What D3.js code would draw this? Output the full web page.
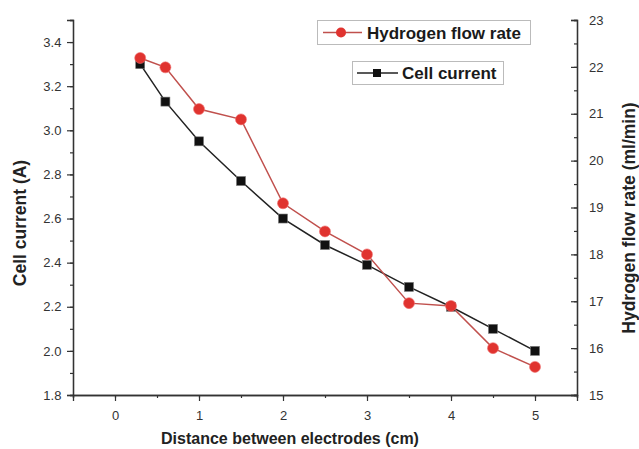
<!DOCTYPE html>
<html><head><meta charset="utf-8">
<script src="https://cdn.jsdelivr.net/npm/d3@7"></script>
<style>body{margin:0;background:#fff}text{font-family:Arial,"Liberation Sans",sans-serif}</style>
</head><body><svg id="c" width="639" height="449"></svg>
<script>
const distance = [0.3, 0.6, 1, 1.5, 2, 2.5, 3, 3.5, 4, 4.5, 5];
const cellCurrent = [3.30, 3.13, 2.95, 2.77, 2.60, 2.48, 2.39, 2.29, 2.20, 2.10, 2.00];
const hydrogenFlow = [22.19, 21.99, 21.10, 20.88, 19.09, 18.49, 18.00, 16.96, 16.90, 16.00, 15.60];
const xTicks = [0, 1, 2, 3, 4, 5];
const leftTicks = [1.8, 2.0, 2.2, 2.4, 2.6, 2.8, 3.0, 3.2, 3.4];
const rightTicks = [15, 16, 17, 18, 19, 20, 21, 22, 23];

const svg = d3.select("#c");
const L = 73, R = 577, T = 20, B = 395;
const x = d3.scaleLinear().domain([-0.5, 5.5]).range([L, R]);
const yL = d3.scaleLinear().domain([1.8, 3.5]).range([B, T]);
const yR = d3.scaleLinear().domain([15, 23]).range([B, T]);
const axisCol = "#333", labCol = "#333";

// bottom axis
const gx = svg.append("g").attr("transform", `translate(0,${B})`);
gx.call(d3.axisBottom(x).tickValues(d3.range(-0.5, 5.51, 0.5)).tickSize(3).tickFormat(""));
gx.call(g => g.append("g").call(d3.axisBottom(x).tickValues(xTicks).tickSize(6).tickFormat(d3.format("d"))));
gx.selectAll(".domain").attr("stroke", axisCol).attr("stroke-width", 1.3);
gx.selectAll("line").attr("stroke", axisCol).attr("stroke-width", 1.2);
gx.selectAll("text").attr("font-size", 13).attr("fill", labCol).attr("dy", "1.25em");

// left axis
const gl = svg.append("g").attr("transform", `translate(${L},0)`);
gl.call(d3.axisLeft(yL).tickValues(d3.range(18, 35.1, 1).map(v => v / 10)).tickSize(3).tickFormat(""));
gl.call(g => g.append("g").call(d3.axisLeft(yL).tickValues(leftTicks).tickSize(6).tickFormat(d3.format(".1f"))));
gl.selectAll(".domain").attr("stroke", axisCol).attr("stroke-width", 1.3);
gl.selectAll("line").attr("stroke", axisCol).attr("stroke-width", 1.2);
gl.selectAll("text").attr("font-size", 13).attr("fill", labCol).attr("dx", "-0.2em");

// right axis (ticks inward)
const gr = svg.append("g").attr("transform", `translate(${R},0)`);
gr.call(d3.axisRight(yR).tickValues(d3.range(15, 23.01, 0.5)).tickSize(-3).tickFormat(""));
gr.call(g => g.append("g").call(d3.axisRight(yR).tickValues(rightTicks).tickSize(-6).tickPadding(12).tickFormat(d3.format("d"))));
gr.selectAll(".domain").attr("stroke", axisCol).attr("stroke-width", 1.3);
gr.selectAll("line").attr("stroke", axisCol).attr("stroke-width", 1.2);
gr.selectAll("text").attr("font-size", 13).attr("fill", labCol).attr("x", 12);

// axis titles
svg.append("text").attr("x", 290).attr("y", 444).attr("text-anchor", "middle")
  .attr("font-size", 16).attr("font-weight", "bold").attr("fill", "#222").text("Distance between electrodes (cm)");
svg.append("text").attr("transform", `translate(26,223) rotate(-90)`).attr("text-anchor", "middle")
  .attr("font-size", 17.5).attr("font-weight", "bold").attr("fill", "#222").text("Cell current (A)");
svg.append("text").attr("transform", `translate(635,218) rotate(-90)`).attr("text-anchor", "middle")
  .attr("font-size", 17.5).attr("font-weight", "bold").attr("fill", "#222").text("Hydrogen flow rate (ml/min)");

// series
const redLine = "#c0504d", redFill = "#e0332f";
svg.append("path").datum(distance.map((d, i) => [d, cellCurrent[i]]))
  .attr("d", d3.line().x(d => x(d[0])).y(d => yL(d[1])))
  .attr("fill", "none").attr("stroke", "#222").attr("stroke-width", 1.5);
svg.append("path").datum(distance.map((d, i) => [d, hydrogenFlow[i]]))
  .attr("d", d3.line().x(d => x(d[0])).y(d => yR(d[1])))
  .attr("fill", "none").attr("stroke", redLine).attr("stroke-width", 1.5);
svg.selectAll("rect.sq").data(distance.map((d, i) => [d, cellCurrent[i]])).join("rect")
  .attr("class", "sq").attr("x", d => x(d[0]) - 4.5).attr("y", d => yL(d[1]) - 4.5)
  .attr("width", 9).attr("height", 9).attr("fill", "#111").attr("stroke", "#777").attr("stroke-width", 0.6);
svg.selectAll("circle.ci").data(distance.map((d, i) => [d, hydrogenFlow[i]])).join("circle")
  .attr("class", "ci").attr("cx", d => x(d[0])).attr("cy", d => yR(d[1])).attr("r", 5.5)
  .attr("fill", redFill).attr("stroke", "#f07070").attr("stroke-width", 0.6);

// legends
const lg1 = svg.append("g");
lg1.append("rect").attr("x", 317.5).attr("y", 20.5).attr("width", 213).attr("height", 24)
  .attr("fill", "#fff").attr("stroke", "#bbb").attr("stroke-width", 1);
lg1.append("line").attr("x1", 323).attr("x2", 362).attr("y1", 32.5).attr("y2", 32.5).attr("stroke", redLine).attr("stroke-width", 1.5);
lg1.append("circle").attr("cx", 341).attr("cy", 32.5).attr("r", 5).attr("fill", redFill);
lg1.append("text").attr("x", 367).attr("y", 38.5).attr("font-size", 17).attr("font-weight", "bold").attr("fill", "#1a1a1a").text("Hydrogen flow rate");

const lg2 = svg.append("g");
lg2.append("rect").attr("x", 352.5).attr("y", 61.5).attr("width", 151).attr("height", 23)
  .attr("fill", "#fff").attr("stroke", "#bbb").attr("stroke-width", 1);
lg2.append("line").attr("x1", 357).attr("x2", 398).attr("y1", 73).attr("y2", 73).attr("stroke", "#222").attr("stroke-width", 1.5);
lg2.append("rect").attr("x", 373).attr("y", 69).attr("width", 8).attr("height", 8).attr("fill", "#111");
lg2.append("text").attr("x", 402).attr("y", 79).attr("font-size", 17).attr("font-weight", "bold").attr("fill", "#1a1a1a").text("Cell current");
</script></body></html>
